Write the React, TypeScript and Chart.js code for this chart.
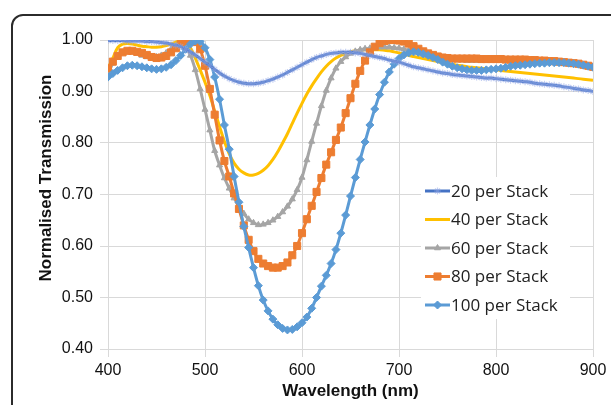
import React, { useEffect, useRef } from 'react';
import { Chart, registerables } from 'chart.js';
import { drawPoint } from 'chart.js/helpers';

Chart.register(...registerables);

const WAVELENGTHS = [
  400, 405, 410, 415, 420, 425, 430, 435, 440, 445,
  450, 455, 460, 465, 470, 475, 480, 485, 490, 495,
  500, 505, 510, 515, 520, 525, 530, 535, 540, 545,
  550, 555, 560, 565, 570, 575, 580, 585, 590, 595,
  600, 605, 610, 615, 620, 625, 630, 635, 640, 645,
  650, 655, 660, 665, 670, 675, 680, 685, 690, 695,
  700, 705, 710, 715, 720, 725, 730, 735, 740, 745,
  750, 755, 760, 765, 770, 775, 780, 785, 790, 795,
  800, 805, 810, 815, 820, 825, 830, 835, 840, 845,
  850, 855, 860, 865, 870, 875, 880, 885, 890, 895,
  900,
];

const S20 = [
  0.999, 0.999, 0.999, 0.999, 0.998, 0.998, 0.998, 0.998, 0.997, 0.997,
  0.996, 0.995, 0.994, 0.992, 0.990, 0.987, 0.982, 0.977, 0.971, 0.964,
  0.957, 0.950, 0.943, 0.936, 0.930, 0.925, 0.921, 0.918, 0.916, 0.915,
  0.915, 0.916, 0.918, 0.921, 0.924, 0.928, 0.932, 0.937, 0.942, 0.947,
  0.952, 0.957, 0.962, 0.966, 0.969, 0.972, 0.974, 0.975, 0.976, 0.976,
  0.976, 0.975, 0.974, 0.972, 0.970, 0.968, 0.966, 0.964, 0.961, 0.959,
  0.957, 0.954, 0.951, 0.948, 0.946, 0.944, 0.942, 0.940, 0.938, 0.936,
  0.935, 0.933, 0.932, 0.931, 0.930, 0.929, 0.928, 0.927, 0.926, 0.926,
  0.925, 0.924, 0.923, 0.922, 0.921, 0.920, 0.919, 0.918, 0.916, 0.915,
  0.914, 0.913, 0.912, 0.911, 0.909, 0.908, 0.906, 0.905, 0.903, 0.902,
  0.900,
];

const S40 = [
  0.945, 0.965, 0.985, 0.992, 0.993, 0.992, 0.990, 0.988, 0.987, 0.986,
  0.986, 0.987, 0.989, 0.992, 0.996, 0.998, 0.995, 0.985, 0.965, 0.942,
  0.918, 0.892, 0.862, 0.832, 0.803, 0.779, 0.761, 0.749, 0.742, 0.738,
  0.738, 0.741, 0.747, 0.756, 0.768, 0.783, 0.800, 0.818, 0.838, 0.858,
  0.877, 0.895, 0.911, 0.925, 0.938, 0.949, 0.958, 0.965, 0.970, 0.974,
  0.977, 0.979, 0.980, 0.981, 0.981, 0.981, 0.981, 0.980, 0.979, 0.977,
  0.975, 0.973, 0.970, 0.968, 0.966, 0.964, 0.962, 0.960, 0.958, 0.956,
  0.955, 0.953, 0.951, 0.950, 0.948, 0.947, 0.946, 0.945, 0.944, 0.943,
  0.942, 0.941, 0.940, 0.939, 0.938, 0.937, 0.936, 0.935, 0.934, 0.933,
  0.932, 0.931, 0.930, 0.929, 0.928, 0.927, 0.926, 0.925, 0.924, 0.923,
  0.922,
];

const S60 = [
  0.935, 0.955, 0.970, 0.976, 0.978, 0.977, 0.974, 0.970, 0.967, 0.966,
  0.967, 0.970, 0.975, 0.982, 0.988, 0.990, 0.985, 0.970, 0.942, 0.905,
  0.865, 0.825, 0.785, 0.757, 0.732, 0.712, 0.693, 0.677, 0.663, 0.652,
  0.645, 0.641, 0.642, 0.645, 0.650, 0.657, 0.666, 0.677, 0.691, 0.709,
  0.733, 0.767, 0.803, 0.838, 0.872, 0.902, 0.926, 0.945, 0.958, 0.967,
  0.974, 0.978, 0.981, 0.983, 0.984, 0.985, 0.986, 0.986, 0.986, 0.985,
  0.984, 0.982, 0.980, 0.977, 0.975, 0.972, 0.970, 0.968, 0.966, 0.964,
  0.963, 0.962, 0.961, 0.961, 0.960, 0.960, 0.960, 0.960, 0.960, 0.960,
  0.960, 0.960, 0.960, 0.960, 0.959, 0.959, 0.959, 0.958, 0.958, 0.957,
  0.957, 0.956, 0.956, 0.955, 0.954, 0.953, 0.952, 0.951, 0.949, 0.947,
  0.945,
];

const S80 = [
  0.945, 0.958, 0.969, 0.976, 0.979, 0.979, 0.977, 0.975, 0.971, 0.967,
  0.965, 0.966, 0.969, 0.976, 0.984, 0.992, 0.998, 1.000, 0.996, 0.982,
  0.950, 0.905, 0.855, 0.805, 0.765, 0.735, 0.702, 0.672, 0.640, 0.612,
  0.590, 0.575, 0.566, 0.561, 0.558, 0.558, 0.561, 0.568, 0.582, 0.600,
  0.625, 0.652, 0.678, 0.705, 0.732, 0.758, 0.782, 0.806, 0.830, 0.858,
  0.887, 0.915, 0.940, 0.960, 0.976, 0.987, 0.994, 0.998, 1.000, 1.000,
  0.999, 0.997, 0.993, 0.988, 0.983, 0.978, 0.974, 0.971, 0.968, 0.966,
  0.965, 0.964, 0.964, 0.964, 0.964, 0.964, 0.964, 0.963, 0.963, 0.963,
  0.963, 0.963, 0.962, 0.962, 0.962, 0.962, 0.962, 0.961, 0.961, 0.960,
  0.960, 0.959, 0.959, 0.958, 0.957, 0.956, 0.955, 0.954, 0.952, 0.950,
  0.948,
];

const S100 = [
  0.928, 0.935, 0.941, 0.946, 0.950, 0.951, 0.950, 0.948, 0.946, 0.944,
  0.943, 0.944, 0.947, 0.952, 0.960, 0.970, 0.982, 0.992, 0.998, 0.997,
  0.985, 0.962, 0.928, 0.885, 0.835, 0.788, 0.735, 0.685, 0.638, 0.597,
  0.558, 0.523, 0.495, 0.474, 0.458, 0.447, 0.440, 0.437, 0.438, 0.443,
  0.451, 0.462, 0.479, 0.500, 0.522, 0.543, 0.566, 0.593, 0.625, 0.660,
  0.697, 0.733, 0.768, 0.802, 0.835, 0.866, 0.894, 0.918, 0.938, 0.953,
  0.964, 0.971, 0.975, 0.977, 0.976, 0.973, 0.970, 0.966, 0.962, 0.957,
  0.953, 0.949, 0.946, 0.944, 0.942, 0.941, 0.941, 0.941, 0.942, 0.943,
  0.944, 0.945, 0.947, 0.949, 0.950, 0.951, 0.952, 0.953, 0.954, 0.955,
  0.955, 0.956, 0.956, 0.956, 0.956, 0.955, 0.954, 0.953, 0.951, 0.949,
  0.947,
];

const SERIES_NAMES = ['20 per Stack', '40 per Stack', '60 per Stack', '80 per Stack', '100 per Stack'];
const X_TICKS = [400, 500, 600, 700, 800, 900];
const Y_TICKS = [0.4, 0.5, 0.6, 0.7, 0.8, 0.9, 1.0];
const X_TITLE = 'Wavelength (nm)';
const Y_TITLE = 'Normalised Transmission';

const toPoints = (vals: number[]) => WAVELENGTHS.map((x, i) => ({ x, y: vals[i] }));

const legendPlugin = {
  id: 'insideLegend',
  afterDatasetsDraw(chart: any) {
    const ctx = chart.ctx;
    ctx.save();
    ctx.fillStyle = '#ffffff';
    ctx.fillRect(421, 177, 149, 142);
    const rows = [191, 219.5, 248, 276.5, 305];
    chart.data.datasets.forEach((ds: any, i: number) => {
      const y = rows[i];
      ctx.strokeStyle = ds.borderColor;
      ctx.lineWidth = ds.borderWidth;
      ctx.beginPath();
      ctx.moveTo(425, y);
      ctx.lineTo(450, y);
      ctx.stroke();
      if (ds.pointRadius > 0) {
        ctx.fillStyle = ds.pointBackgroundColor;
        ctx.strokeStyle = ds.pointBorderColor;
        ctx.lineWidth = ds.pointBorderWidth;
        drawPoint(ctx, { pointStyle: ds.pointStyle, radius: ds.pointRadius, borderWidth: ds.pointBorderWidth, rotation: 0 }, 437.5, y);
      }
      ctx.fillStyle = '#222222';
      ctx.font = '17px "Open Sans", sans-serif';
      ctx.textBaseline = 'middle';
      ctx.textAlign = 'left';
      ctx.fillText(ds.label, 451, y + 1);
    });
    ctx.restore();
  },
};

const yTitlePlugin = {
  id: 'yTitle',
  afterDraw(chart: any) {
    const ctx = chart.ctx;
    ctx.save();
    ctx.translate(46, 178);
    ctx.rotate(-Math.PI / 2);
    ctx.fillStyle = '#111111';
    ctx.font = 'bold 17px "Liberation Sans", Arial, sans-serif';
    ctx.textAlign = 'center';
    ctx.textBaseline = 'middle';
    ctx.fillText(Y_TITLE, 0, 0);
    ctx.restore();
  },
};

export default function App() {
  const canvasRef = useRef<HTMLCanvasElement | null>(null);

  useEffect(() => {
    const canvas = canvasRef.current;
    if (!canvas) return;
    const chart = new Chart(canvas, {
      type: 'line',
      data: {
        datasets: [
          {
            label: SERIES_NAMES[0],
            data: toPoints(S20),
            borderColor: '#4472C4',
            borderWidth: 3,
            pointStyle: 'star',
            pointRadius: 3.5,
            pointBorderColor: 'rgba(150,170,232,0.55)',
            pointBackgroundColor: 'rgba(150,170,232,0.55)',
            pointBorderWidth: 1.2,
            order: 0,
          },
          {
            label: SERIES_NAMES[1],
            data: toPoints(S40),
            borderColor: '#FFC000',
            borderWidth: 3,
            pointStyle: 'line',
            pointRadius: 0,
            pointBorderColor: '#FFC000',
            pointBackgroundColor: '#FFC000',
            pointBorderWidth: 1,
            order: 4,
          },
          {
            label: SERIES_NAMES[2],
            data: toPoints(S60),
            borderColor: '#A5A5A5',
            borderWidth: 3,
            pointStyle: 'triangle',
            pointRadius: 3.5,
            pointBorderColor: '#A5A5A5',
            pointBackgroundColor: '#A5A5A5',
            pointBorderWidth: 1,
            order: 3,
          },
          {
            label: SERIES_NAMES[3],
            data: toPoints(S80),
            borderColor: '#ED7D31',
            borderWidth: 3,
            pointStyle: 'rect',
            pointRadius: 5,
            pointBorderColor: '#ED7D31',
            pointBackgroundColor: '#ED7D31',
            pointBorderWidth: 1,
            order: 2,
          },
          {
            label: SERIES_NAMES[4],
            data: toPoints(S100),
            borderColor: '#5B9BD5',
            borderWidth: 3,
            pointStyle: 'rectRot',
            pointRadius: 4,
            pointBorderColor: '#5B9BD5',
            pointBackgroundColor: '#5B9BD5',
            pointBorderWidth: 1,
            order: 1,
          },
        ],
      },
      options: {
        animation: false,
        responsive: false,
        maintainAspectRatio: false,
        layout: { padding: { top: 40, right: 18, bottom: 0, left: 0 } },
        plugins: {
          legend: { display: false },
          tooltip: { enabled: false },
        },
        elements: { line: { tension: 0.3 } },
        scales: {
          x: {
            type: 'linear',
            min: 400,
            max: 900,
            afterBuildTicks: (scale: any) => {
              scale.ticks = X_TICKS.map((v) => ({ value: v }));
            },
            afterFit: (scale: any) => {
              scale.height = 56;
            },
            grid: { color: '#d9d9d9', lineWidth: 1, tickLength: 8, tickColor: '#d9d9d9' },
            border: { color: '#d9d9d9' },
            ticks: {
              color: '#111111',
              font: { family: '"Liberation Sans", Arial, sans-serif', size: 16 },
              padding: 4,
              maxRotation: 0,
              callback: (v: any) => String(v),
            },
            title: {
              display: true,
              text: X_TITLE,
              color: '#111111',
              font: { family: '"Liberation Sans", Arial, sans-serif', size: 17, weight: 'bold' },
              padding: { top: 0, bottom: 3 },
            },
          },
          y: {
            type: 'linear',
            min: 0.4,
            max: 1.0,
            afterBuildTicks: (scale: any) => {
              scale.ticks = Y_TICKS.map((v) => ({ value: v }));
            },
            afterFit: (scale: any) => {
              scale.width = 108;
            },
            grid: { color: '#d9d9d9', lineWidth: 1, tickLength: 8, tickColor: '#d9d9d9' },
            border: { color: '#d9d9d9' },
            ticks: {
              color: '#111111',
              font: { family: '"Liberation Sans", Arial, sans-serif', size: 16 },
              padding: 7,
              callback: (v: any) => Number(v).toFixed(2),
            },
            title: { display: false },
          },
        },
      },
      plugins: [legendPlugin, yTitlePlugin],
    } as any);
    return () => chart.destroy();
  }, []);

  return (
    <div style={{ position: 'fixed', left: 0, top: 0, width: 611, height: 405, overflow: 'hidden', background: '#ffffff' }}>
      <canvas ref={canvasRef} width={611} height={405} style={{ position: 'absolute', left: 0, top: 0, display: 'block' }} />
      <div
        style={{
          position: 'absolute',
          left: 11,
          top: 14,
          width: 640,
          height: 440,
          border: '2px solid #2b2b2b',
          borderRadius: 12,
          boxSizing: 'border-box',
          pointerEvents: 'none',
        }}
      />
    </div>
  );
}
